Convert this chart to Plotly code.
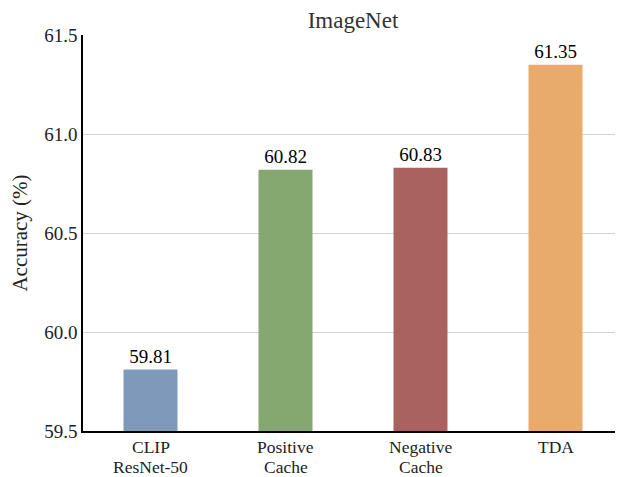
import plotly.graph_objects as go

categories = ["CLIP<br>ResNet-50", "Positive<br>Cache", "Negative<br>Cache", "TDA"]
values = [59.81, 60.82, 60.83, 61.35]
labels = ["59.81", "60.82", "60.83", "61.35"]
colors = ["#7f99ba", "#84a86f", "#a9625f", "#e9ab6b"]
tick_vals = [59.5, 60.0, 60.5, 61.0, 61.5]

SERIF = "Liberation Serif"

fig = go.Figure(go.Bar(
    x=categories, y=values, text=labels, textposition="outside",
    marker=dict(color=colors, line=dict(width=0)),
    width=0.4, cliponaxis=False,
    textfont=dict(size=19, color="black", family=SERIF),
))

# category labels as two tightly spaced lines (matching the reference line spacing)
for cat in categories:
    parts = cat.split("<br>")
    for i, part in enumerate(parts):
        fig.add_annotation(
            x=cat, xref="x", y=0, yref="paper", text=part, showarrow=False,
            yanchor="middle", yshift=-16 - 20 * i,
            font=dict(size=17.5, family=SERIF, color="#222"),
        )

fig.update_layout(
    width=615, height=469,
    margin=dict(l=75, r=0, t=27, b=46),
    paper_bgcolor="white", plot_bgcolor="white",
    font=dict(family=SERIF, size=19, color="#222"),
    title=dict(text="ImageNet", xref="paper", x=0.5, xanchor="center",
               y=0.974, yanchor="middle",
               font=dict(size=23, color="#333", family=SERIF)),
    showlegend=False,
)
fig.update_yaxes(
    range=[59.5, 61.5], tickvals=tick_vals, ticktext=[f"{v:.1f}" for v in tick_vals],
    showgrid=True, gridcolor="#d3d3d3", gridwidth=1,
    showline=True, linecolor="black", linewidth=1.5,
    title=dict(text="Accuracy (%)", font=dict(size=21, color="#222", family=SERIF), standoff=12),
    ticks="", zeroline=False, tickfont=dict(size=19, family=SERIF),
    automargin=False,
)
fig.update_xaxes(
    showline=True, linecolor="black", linewidth=1.5, ticks="",
    showticklabels=False, automargin=False,
)

fig.write_html("out.html")
